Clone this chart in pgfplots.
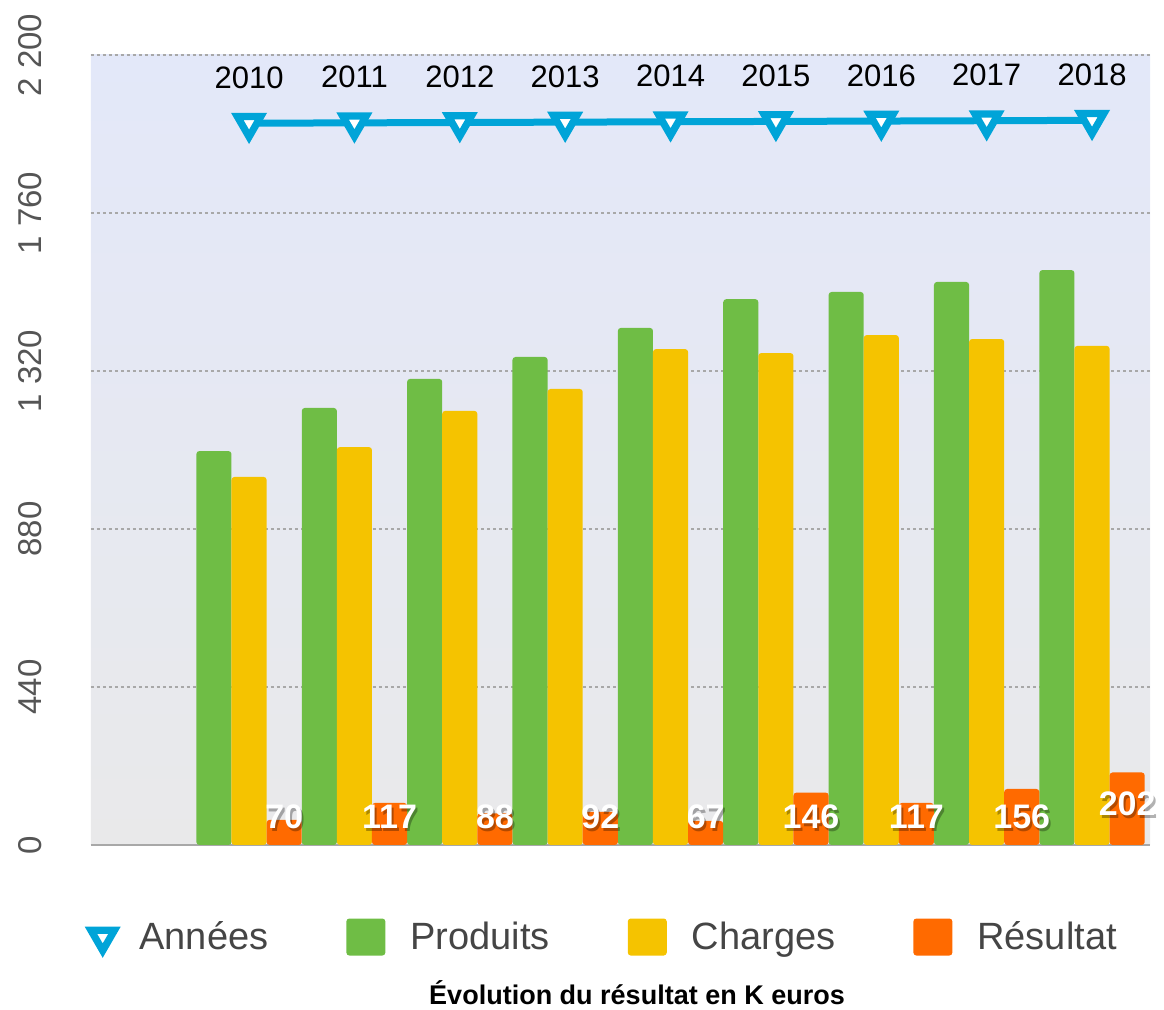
\documentclass[border=0pt]{standalone}
\usepackage{fontspec}
\setmainfont{Liberation Sans}
\usepackage{pgfplots}
\pgfplotsset{compat=1.18}
\definecolor{Prod}{HTML}{6FBD45}
\definecolor{Charg}{HTML}{F5C300}
\definecolor{Resu}{HTML}{FF6A00}
\definecolor{Annee}{HTML}{00A4D8}
\definecolor{BgTop}{HTML}{E3E8F9}
\definecolor{BgBot}{HTML}{E9E9EA}
\definecolor{GridGray}{HTML}{A8A8A8}
\definecolor{TickGray}{HTML}{555555}
\definecolor{LegGray}{HTML}{454545}

\begin{document}
\begin{tikzpicture}
\path[use as bounding box] (-45.5pt,-82.5pt) rectangle (536.5pt,422.5pt);
\begin{axis}[
  scale only axis, width=529.5pt, height=395pt,
  xmin=2008.5, xmax=2018.55, ymin=0, ymax=2200,
  ytick={0,440,...,2200}, xtick=\empty,
  axis x line*=bottom, axis y line*=left,
  y axis line style={draw=none},
  x axis line style={draw=GridGray, line width=0.8pt},
  major tick length=0pt,
  ymajorgrids,
  grid style={draw=GridGray, line width=0.6pt, dash pattern=on 1.5pt off 1.5pt},
  axis background/.style={top color=BgTop, bottom color=BgBot},
  yticklabel style={rotate=90, anchor=south, inner sep=0pt,
    font=\fontsize{16.5}{18}\selectfont, text=TickGray,
    /pgf/number format/1000 sep={\ },
    /pgf/number format/assume math mode=true},
  yticklabel shift=24.5pt,
  clip=false,
  legend columns=4,
  legend style={at={(axis description cs:0.4843,-0.1165)}, anchor=center,
    draw=none, fill=none, inner sep=0pt, nodes={inner sep=0pt},
    font=\fontsize{19}{22}\selectfont, text=LegGray,
    /tikz/every odd column/.append style={column sep=12.5pt},
    /tikz/every even column/.append style={column sep=39pt}},
]
% Annees
\addplot[draw=Annee, line width=3.5pt, mark=triangle*, mark size=6.8pt,
  mark options={rotate=180, fill=white, draw=Annee, line width=3.6pt},
  nodes near coords={\pgfmathprintnumber[1000 sep={},assume math mode=true]{\pgfplotspointmeta}},
  every node near coord/.style={anchor=south, inner sep=0pt, yshift=15.5pt,
    font=\fontsize{15.5}{17}\selectfont, text=black},
  legend image code/.code={\path[mark=triangle*, mark size=6.8pt,
    mark options={rotate=180, fill=white, draw=Annee, line width=3.6pt}]
    plot coordinates {(9.75pt,0pt)};}]
  coordinates {(2010,2010)(2011,2011)(2012,2012)(2013,2013)(2014,2014)
               (2015,2015)(2016,2016)(2017,2017)(2018,2018)};
% Produits
\addplot[ybar, bar width=0.3333, bar shift=-0.3333, fill=Prod, draw=none,
  rounded corners=1.5pt,
  legend image code/.code={\fill[Prod] (0pt,-9.25pt) rectangle (19.5pt,9.25pt);}]
  coordinates {(2010,1097)(2011,1217)(2012,1298)(2013,1359)(2014,1440)
               (2015,1520)(2016,1540)(2017,1568)(2018,1601)};
% Charges
\addplot[ybar, bar width=0.3333, bar shift=0, fill=Charg, draw=none,
  rounded corners=1.5pt,
  legend image code/.code={\fill[Charg] (0pt,-9.25pt) rectangle (19.5pt,9.25pt);}]
  coordinates {(2010,1025)(2011,1108)(2012,1209)(2013,1270)(2014,1381)
               (2015,1370)(2016,1420)(2017,1409)(2018,1390)};
% Resultat
\addplot[ybar, bar width=0.3333, bar shift=0.3333, fill=Resu, draw=none,
  rounded corners=1.5pt,
  legend image code/.code={\fill[Resu] (0pt,-9.25pt) rectangle (19.5pt,9.25pt);}]
  coordinates {(2010,70)(2011,117)(2012,88)(2013,92)(2014,67)
               (2015,146)(2016,117)(2017,156)(2018,202)};
% labels of Resultat: soft shadow then white text
\addplot[draw=none, forget plot, nodes near coords, point meta=explicit symbolic,
  every node near coord/.style={anchor=center, inner sep=0pt,
    xshift=17.56pt+1pt, yshift=-1.2pt,
    font=\fontsize{17}{19}\selectfont\bfseries, text=black, opacity=0.3}]
  coordinates {(2010,78)[70](2011,78)[117](2012,78)[88](2013,78)[92](2014,78)[67]
               (2015,78)[146](2016,78)[117](2017,78)[156](2018,114)[202]};
\addplot[draw=none, forget plot, nodes near coords, point meta=explicit symbolic,
  every node near coord/.style={anchor=center, inner sep=0pt, xshift=17.56pt,
    font=\fontsize{17}{19}\selectfont\bfseries, text=white}]
  coordinates {(2010,78)[70](2011,78)[117](2012,78)[88](2013,78)[92](2014,78)[67]
               (2015,78)[146](2016,78)[117](2017,78)[156](2018,114)[202]};
\legend{Années,Produits,Charges,Résultat}
\node[font=\fontsize{13.5}{16}\selectfont\bfseries] at (axis description cs:0.5156,-0.1870)
  {Évolution du résultat en K euros};
\end{axis}
\end{tikzpicture}
\end{document}
